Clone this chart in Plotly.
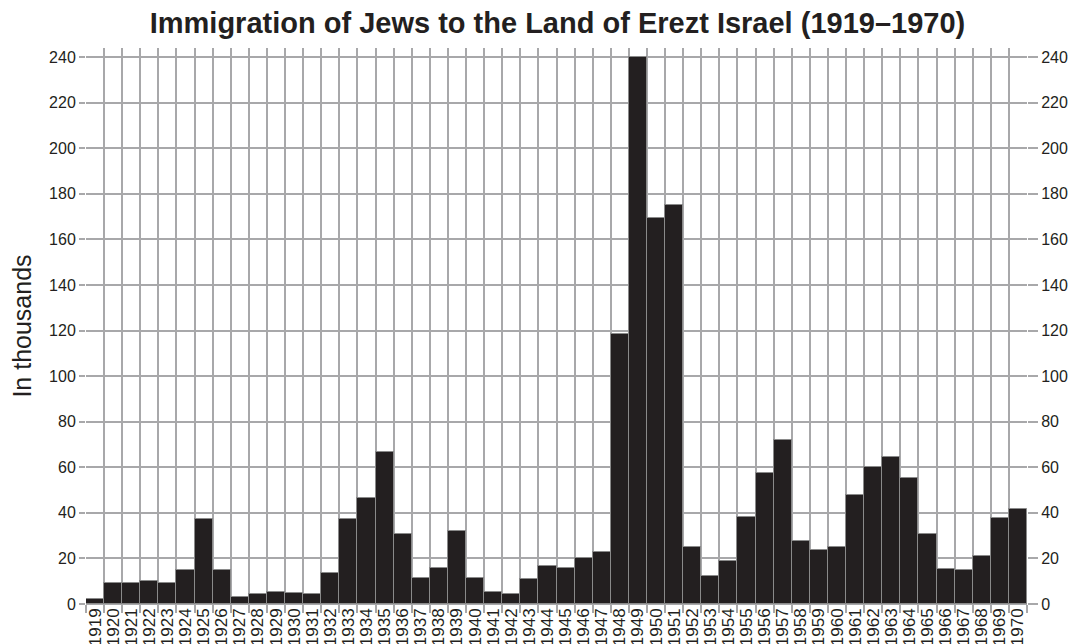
import plotly.graph_objects as go

years = [str(y) for y in range(1919, 1971)]
immigrants = [
    2.1, 9.0, 9.3, 9.9, 9.0, 14.9, 37.1, 14.9, 3.1, 4.3,
    5.4, 4.7, 4.3, 13.5, 37.4, 46.5, 66.8, 30.6, 11.6, 15.6,
    32.2, 11.5, 5.4, 4.6, 11.0, 16.6, 15.7, 20.0, 22.8, 118.5,
    239.9, 169.6, 174.9, 25.1, 12.2, 18.7, 38.1, 57.6, 71.9, 27.6,
    23.8, 25.0, 47.8, 60.1, 64.7, 55.4, 30.9, 15.4, 14.9, 21.0,
    37.9, 41.8,
]
y_ticks = list(range(0, 241, 20))

GRID = "#a8a8aa"
INK = "#231f20"
FONT = "Liberation Sans, Arial, sans-serif"

fig = go.Figure()
fig.add_trace(go.Bar(
    x=years, y=immigrants,
    marker=dict(color=INK, line=dict(color="#8a8a8a", width=1)),
    showlegend=False,
))
# invisible companion trace for right axis
fig.add_trace(go.Scatter(x=years, y=immigrants, yaxis="y2", mode="none",
                         showlegend=False, hoverinfo="skip"))

fig.update_layout(
    width=1070, height=644,
    margin=dict(l=86, r=43, t=48, b=40),
    paper_bgcolor="white", plot_bgcolor="white",
    bargap=0,
    title=dict(text="<b>Immigration of Jews to the Land of Erezt Israel (1919–1970)</b>",
               x=0.521, xanchor="center", y=0.964, yanchor="middle",
               font=dict(family=FONT, size=29, color=INK)),
    font=dict(family=FONT, color=INK),
    xaxis=dict(
        type="category", tickson="boundaries",
        tickmode="array", tickvals=years, ticktext=years,
        showgrid=True, gridcolor=GRID, gridwidth=1.6,
        ticks="outside", ticklen=8, tickcolor=GRID, tickwidth=1.6,
        tickangle=-90, tickfont=dict(size=17, color=INK),
        showline=False, zeroline=False, layer="above traces",
        automargin=False,
    ),
    yaxis=dict(
        range=[0, 244], tickvals=y_ticks,
        showgrid=True, gridcolor=GRID, gridwidth=1.6,
        ticks="outside", ticklen=6, tickcolor=GRID, tickwidth=1.6,
        tickfont=dict(size=16, color=INK),
        zeroline=True, zerolinecolor=GRID, zerolinewidth=1.6,
        layer="above traces", automargin=False,
        title=dict(text="In thousands", font=dict(size=25, color=INK), standoff=10),
    ),
    yaxis2=dict(
        range=[0, 244], tickvals=y_ticks, overlaying="y", side="right",
        showgrid=False, zeroline=False,
        ticks="outside", ticklen=10, tickcolor=GRID, tickwidth=1.6,
        tickfont=dict(size=16, color=INK), automargin=False,
    ),
)

fig.write_html("out.html", config={"displayModeBar": False},
               post_script="document.body.style.margin='0';document.body.style.overflow='hidden';")
